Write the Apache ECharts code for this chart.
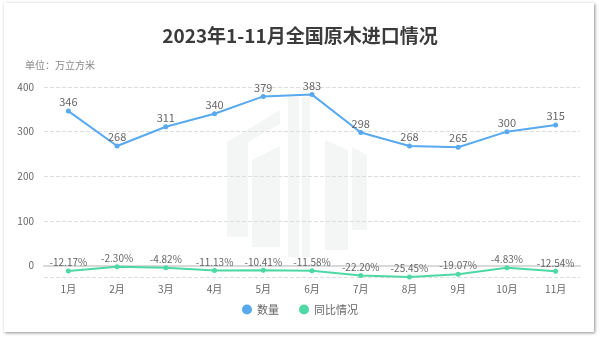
<!DOCTYPE html>
<html><head><meta charset="utf-8">
<script src="https://cdn.jsdelivr.net/npm/echarts@6/dist/echarts.min.js"></script>
<style>
html,body{margin:0;padding:0;background:#fff;width:600px;height:337px;overflow:hidden;}
#card{position:absolute;left:4px;top:3px;width:590px;height:329px;background:#fff;box-shadow:1px 1px 3px rgba(0,0,0,0.45);}
#c{position:absolute;left:0;top:0;width:600px;height:337px;}
</style></head>
<body><div id="card"></div><div id="c"></div>
<script>
const categories = ['1月','2月','3月','4月','5月','6月','7月','8月','9月','10月','11月'];
const volume = [346,268,311,340,379,383,298,268,265,300,315];
const yoy = [-12.17,-2.30,-4.82,-11.13,-10.41,-11.58,-22.20,-25.45,-19.07,-4.83,-12.54];
const titleText = '2023年1-11月全国原木进口情况';
const unitText = '单位：万立方米';
const seriesNames = ['数量','同比情况'];

const chart = echarts.init(document.getElementById('c'), null, {renderer:'canvas'});
const font = '"Noto Sans CJK SC", "Noto Sans", sans-serif';
const wm = '#f4f6f6';
chart.setOption({
  textStyle:{fontFamily:font},
  title:[
    {text:titleText,left:'center',top:21,textStyle:{fontSize:19,fontWeight:'bold',color:'#3b3b3b',fontFamily:font}},
    {text:unitText,left:20,top:55,textStyle:{fontSize:10,fontWeight:'normal',color:'#888',fontFamily:font}}
  ],
  graphic:[
    {type:'polygon',z:-1,silent:true,shape:{points:[[227,142],[280,110],[280,124],[248,142],[248,237],[227,237]]},style:{fill:wm}},
    {type:'polygon',z:-1,silent:true,shape:{points:[[252,160],[280,146],[280,247],[252,247]]},style:{fill:wm}},
    {type:'rect',z:-1,silent:true,shape:{x:288,y:97,width:11,height:160},style:{fill:wm}},
    {type:'rect',z:-1,silent:true,shape:{x:302,y:97,width:8,height:160},style:{fill:wm}},
    {type:'polygon',z:-1,silent:true,shape:{points:[[325,140],[348,150],[348,250],[325,250]]},style:{fill:wm}},
    {type:'polygon',z:-1,silent:true,shape:{points:[[352,147],[367,155],[367,230],[352,230]]},style:{fill:wm}}
  ],
  legend:{bottom:17,left:'center',icon:'circle',itemWidth:10,itemHeight:10,itemGap:20,
    textStyle:{fontSize:11,color:'#666',fontFamily:font},data:seriesNames},
  grid:{left:44,right:20,top:87,bottom:60,containLabel:false},
  xAxis:{type:'category',data:categories,boundaryGap:true,
    axisLine:{lineStyle:{color:'#d9d9d9',width:2}},
    axisTick:{alignWithLabel:true,lineStyle:{color:'#d9d9d9'}},
    axisLabel:{color:'#666',fontSize:10,margin:7}},
  yAxis:{type:'value',min:-25.45,max:400,
    axisLine:{show:false},axisTick:{show:false},
    axisLabel:{color:'#666',fontSize:10,showMinLabel:false,margin:10},
    splitLine:{lineStyle:{color:'#ddd',type:'dashed'}}},
  series:[
    {name:seriesNames[0],type:'line',data:volume,symbol:'circle',symbolSize:5,z:3,
      itemStyle:{color:'#58a9ee'},lineStyle:{color:'#58a9ee',width:2},
      label:{show:true,position:'top',color:'#666',fontSize:11,distance:1}},
    {name:seriesNames[1],type:'line',data:yoy,symbol:'circle',symbolSize:5,z:3,
      itemStyle:{color:'#4dd8a5'},lineStyle:{color:'#4dd8a5',width:2},
      label:{show:true,position:'top',color:'#666',fontSize:10,distance:1,
        formatter:p=>p.value.toFixed(2)+'%'}}
  ]
});
</script></body></html>
